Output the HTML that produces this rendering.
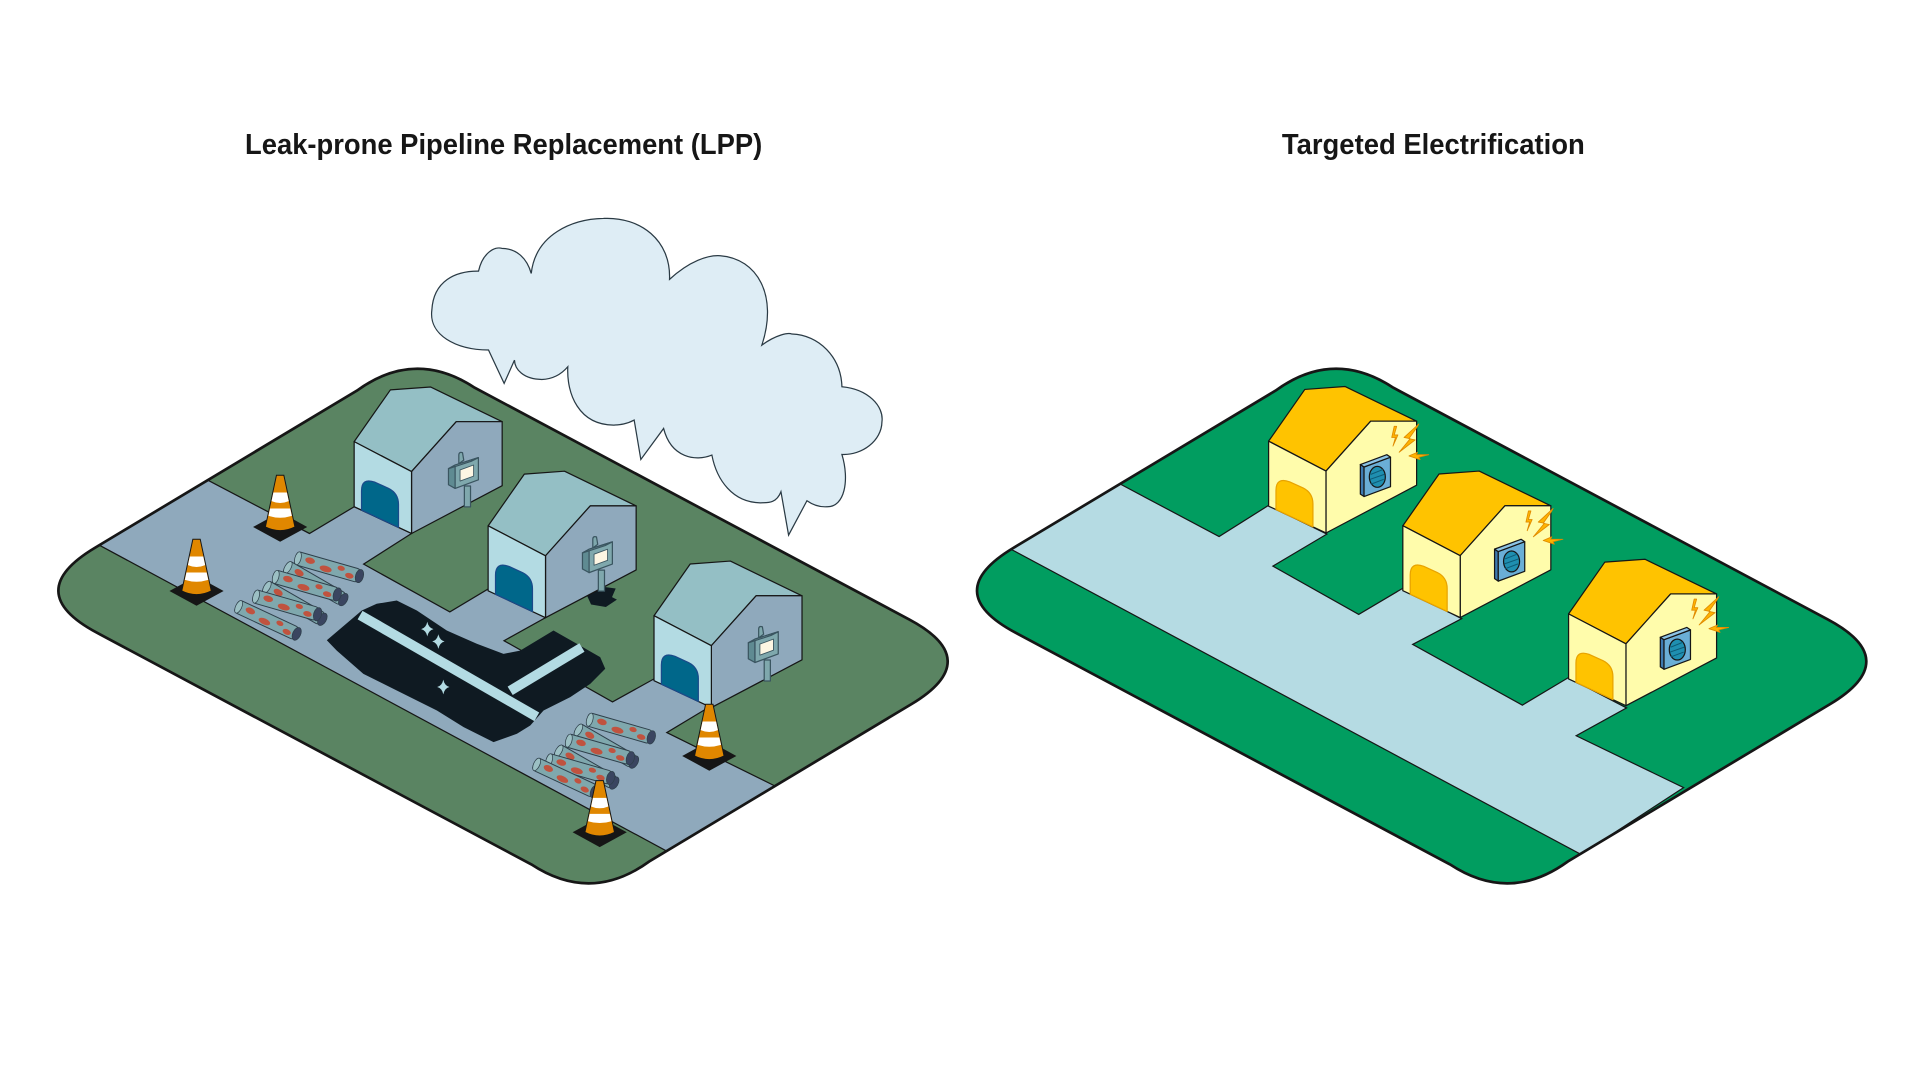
<!DOCTYPE html>
<html><head><meta charset="utf-8"><style>
html,body{margin:0;padding:0;background:#fff;}
svg{display:block;}
text{font-family:"Liberation Sans",sans-serif;font-weight:bold;fill:#161616;}
</style></head><body>
<svg width="1921" height="1081" viewBox="0 0 1560 878" preserveAspectRatio="none" xmlns="http://www.w3.org/2000/svg">
<defs>
<path id="plat" d="M77,445 Q17,481 78.7,513.9 L431.5,702.1 Q480,734 527.2,699.7 L740,572 Q800,536 738.3,503.1 L385.5,314.9 Q337,283 289.8,317.3 Z"/>
<clipPath id="cl"><use href="#plat"/></clipPath>
<clipPath id="cr"><use href="#plat" x="746"/></clipPath>
<g id="hL" stroke="#161616" stroke-width="1" stroke-linejoin="round">
 <polygon points="0,0 29.4,-42 62,-44.4 120.2,-16.2 82.9,-16.2 46.6,24.3" fill="#94bfc5"/>
 <polygon points="46.6,24.3 82.9,-16.2 120.2,-16.2 120.2,35.8 46.6,74.6" fill="#8fa9bc"/>
 <polygon points="0,0 46.6,24.3 46.6,74.6 0,52.8" fill="#b3dbe3"/>
 <path d="M6,55.6 L6,40 Q6,29 17,33 L28,38 Q36,42 36,51 L36,69.6 Z" fill="#00678a" stroke="#1a4a8a"/>
 <rect x="89.5" y="36" width="5" height="17" fill="#7fa8ad" stroke="#3a5560"/>
 <path d="M85,18 L85,11 Q85,8 88,9 L89,15 Z" fill="#7fa8ad" stroke="#3a5560"/>
 <polygon points="76.6,22 82,19 82,38 76.6,35" fill="#5f8b92" stroke="#3a5560"/>
 <polygon points="82,19 100.9,13 100.9,31 82,38" fill="#7fa8ad" stroke="#3a5560"/>
 <polygon points="76.6,22 95,16 100.9,13 82,19" fill="#9cc0c4" stroke="#3a5560"/>
 <polygon points="86,23 97,19 97,28 86,32" fill="#fdf6e3" stroke="#3a5560" stroke-width=".7"/>
</g>
<g id="hR" stroke="#161616" stroke-width="1" stroke-linejoin="round">
 <polygon points="0,0 29.4,-42 62,-44.4 120.2,-16.2 82.9,-16.2 46.6,24.3" fill="#ffc300"/>
 <polygon points="46.6,24.3 82.9,-16.2 120.2,-16.2 120.2,35.8 46.6,74.6" fill="#fffcab"/>
 <polygon points="0,0 46.6,24.3 46.6,74.6 0,52.8" fill="#fffcab"/>
 <path d="M6,55.6 L6,40 Q6,29 17,33 L28,38 Q36,42 36,51 L36,69.6 Z" fill="#ffc300" stroke="#e8a300"/>
 <polygon points="74.5,19 77.5,21 77.5,45 74.5,43" fill="#3e7ab0"/>
 <polygon points="77.5,21 99,13 99,37 77.5,45" fill="#6aaed6"/>
 <polygon points="74.5,19 96,11 99,13 77.5,21" fill="#8cc4e6"/>
 <ellipse cx="88.3" cy="29" rx="6.5" ry="8.5" fill="#1f8fb0"/>
 <g stroke="#0d5a75" stroke-width=".8"><line x1="83" y1="27" x2="93" y2="23"/><line x1="82.5" y1="31" x2="94" y2="27"/><line x1="83" y1="35" x2="93.5" y2="31"/></g>
 <g fill="#ffb400" stroke="#e08a00" stroke-width=".7">
  <polygon points="102,-12 100,-3 103,-3 101,4 105,-5 102,-5 104,-12"/>
  <polygon points="122,-14 110,-3 115,-2 106,9 119,-1 114,-2 121,-12"/>
  <polygon points="114,12 121,9 120,11 130,11 122,13 123,15"/>
 </g>
</g>
<g id="cone">
 <polygon points="-22,42 0,30 22,42 0,54" fill="#161616"/>
 <path d="M-3,0 L3,0 L12,42 Q0,48 -12,42 Z" fill="#e08700" stroke="#161616" stroke-width=".8"/>
 <path d="M-5.5,14 L5.5,14 L7,21 Q0,24 -7,21 Z" fill="#fff"/>
 <path d="M-8.2,27 L8.2,27 L9.5,33 Q0,36 -9.5,33 Z" fill="#fff"/>
</g>
<g id="pp">
 <rect x="0" y="-5.5" width="54" height="11" rx="3" fill="#7fa8ad" stroke="#2e3f4a" stroke-width=".8"/>
 <ellipse cx="54" cy="0" rx="3.2" ry="5.5" fill="#3a4560" stroke="#2e3f4a" stroke-width=".6"/>
 <ellipse cx="2" cy="0" rx="2.5" ry="5.5" fill="#9cc0c4" stroke="#2e3f4a" stroke-width=".6"/>
 <g fill="#c0533f"><ellipse cx="12" cy="-1" rx="4" ry="2.5"/><ellipse cx="26" cy="2" rx="5" ry="2.5"/><ellipse cx="38" cy="-2" rx="3" ry="2"/><ellipse cx="46" cy="2" rx="3.5" ry="2.2"/></g>
</g>
<path id="star" d="M0,-6 Q1,-1 5,0 Q1,1 0,6 Q-1,1 -5,0 Q-1,-1 0,-6Z" fill="#b3dbe3"/>
</defs>

<text x="199" y="125" font-size="23" textLength="420" lengthAdjust="spacingAndGlyphs">Leak-prone Pipeline Replacement (LPP)</text>
<text x="1041" y="125" font-size="23" textLength="246" lengthAdjust="spacingAndGlyphs">Targeted Electrification</text>

<use href="#plat" fill="#5a8462"/>
<g clip-path="url(#cl)">
<polygon points="168.4,389.8 251.3,433.3 287.6,411.6 334.2,433.3 295.3,458.2 365.3,497 396.4,478.4 443,501.7 409.3,520.4 497.4,570.1 531.1,551.4 577.7,573.2 541.5,595 629.5,638.5 541.5,691.3 80.3,442.6 120,400" fill="#8fa9bc" stroke="#161616" stroke-width="1"/>
</g>
<use href="#plat" fill="none" stroke="#161616" stroke-width="2.2"/>

<polygon points="265.4,520 293.8,495.9 305.9,490.4 322.2,487.7 338.5,495.9 362.8,512.1 387.2,522.9 408.9,531.1 422.4,528.4 449.5,512.1 468.4,522.9 487.4,533.7 491.5,543.2 479.3,555.4 463.1,566.2 441.4,577.1 430.6,589.3 419.8,596 400.8,602.8 376.5,590.6 354.8,577.1 322.2,560.8 295.1,547.3 273.5,528.4" fill="#0f1a22"/>
<line x1="292.4" y1="499.6" x2="435.9" y2="582.2" stroke="#b3dbe3" stroke-width="8"/>
<line x1="414.3" y1="561.1" x2="472.6" y2="525.9" stroke="#b3dbe3" stroke-width="8"/>
<use href="#star" x="356" y="521"/><use href="#star" x="360" y="558"/><use href="#star" x="347" y="511"/>
<polygon points="475,480 485,476 500,478 497,485 501,487 492,493 480,491" fill="#0f1a22"/>

<use href="#hL" x="287.6" y="358.7"/>
<use href="#hL" x="396.4" y="427.1"/>
<use href="#hL" x="531.1" y="500.1"/>

<g>
<g transform="translate(240,453) rotate(16)"><use href="#pp"/></g>
<g transform="translate(232,460) rotate(30)"><use href="#pp"/></g>
<g transform="translate(222,468) rotate(16)"><use href="#pp"/></g>
<g transform="translate(215,476) rotate(30)"><use href="#pp"/></g>
<g transform="translate(206,484) rotate(16)"><use href="#pp"/></g>
<g transform="translate(192,492) rotate(25)"><use href="#pp"/></g>
<g transform="translate(477,584) rotate(16)"><use href="#pp"/></g>
<g transform="translate(468,592) rotate(30)"><use href="#pp"/></g>
<g transform="translate(460,601) rotate(16)"><use href="#pp"/></g>
<g transform="translate(452,609) rotate(30)"><use href="#pp"/></g>
<g transform="translate(444,617) rotate(16)"><use href="#pp"/></g>
<g transform="translate(434,620) rotate(25)"><use href="#pp"/></g>
</g>

<use href="#cone" x="227.5" y="386"/>
<use href="#cone" x="159.6" y="438"/>
<use href="#cone" x="576" y="572"/>
<use href="#cone" x="487" y="634"/>

<path d="M396.7,284.3 C370,284 348,272 350.7,251.8 C352,228 370,220 388.6,220.2 C392,205 402,200 407.5,201.7 C420,202 428,210 431.4,222.1 C435,190 465,178 490.1,177.4 C520,176 545,195 543.7,226.9 C560,212 575,207 584.9,207.7 C615,210 632,240 618.7,280.3 C630,272 640,270 643.1,271.3 C665,272 683,290 683.7,314.1 C705,316 718,330 716.2,342.6 C716,358 700,370 683.7,369.1 C690,390 686,412 671.5,411.6 C665,412 660,410 655.3,406.7 L640.4,434.6 L634.2,399.4 C630,410 622,408 617.4,408.4 C595,408 582,390 578.1,369.6 C565,375 545,372 538.9,348 L520.4,373.2 L515,341.2 C508,345 502,345 498.2,345.3 C470,345 460,320 461.1,297.9 C455,305 448,308 440,308.2 C425,308 418,300 417.8,292.5 L409.4,311.4 Z" fill="#deedf5" stroke="#2a3a44" stroke-width="1"/>

<use href="#plat" x="746" fill="#019d60"/>
<g clip-path="url(#cr)">
<polygon points="906.8,391.6 990,435.8 1030.1,410.5 1077.5,433.8 1033.7,459.8 1103.4,499 1139.2,477.8 1187,502.5 1147.2,523.4 1236.3,572.7 1273.6,550.4 1320.9,575 1280,597.6 1367.2,639.7 1283.9,694 820.6,445.9 860,400" fill="#b5dbe3" stroke="#161616" stroke-width="1"/>
</g>
<use href="#plat" x="746" fill="none" stroke="#161616" stroke-width="2.2"/>
<use href="#hR" x="1030.2" y="358.3"/>
<use href="#hR" x="1139.2" y="427"/>
<use href="#hR" x="1273.8" y="498.6"/>
</svg>
</body></html>
